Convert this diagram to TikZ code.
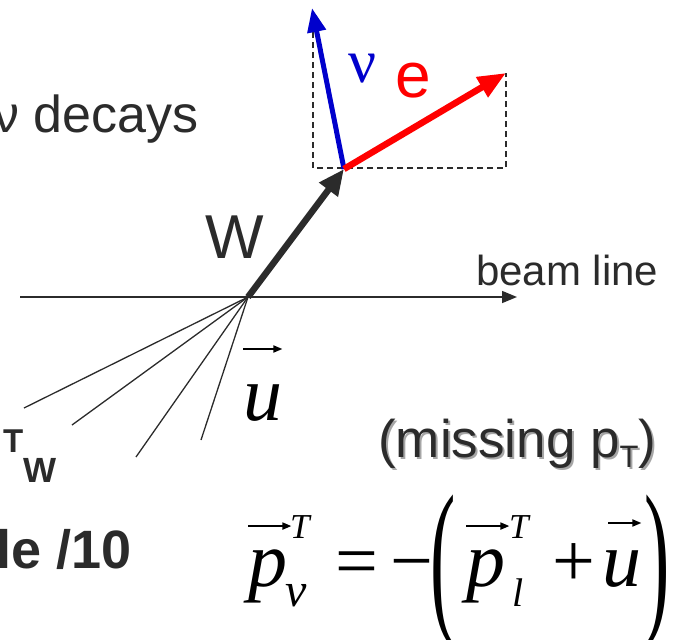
\documentclass[tikz,border=0pt]{standalone}
\usepackage{fontspec}
\setmainfont{Liberation Sans}
\newfontfamily\tms{Liberation Serif}
\usepackage{xcolor}
\usepackage{tikz}
\usetikzlibrary{arrows.meta, positioning}
\definecolor{ink}{HTML}{2B2B2B}
\definecolor{nublue}{HTML}{0000CC}
\definecolor{ered}{HTML}{FF0000}
\newcommand{\fsz}[1]{\fontsize{#1}{#1}\selectfont}
\tikzstyle{lbl}   = [inner sep=0pt, text=ink]
\tikzstyle{eq}    = [inner sep=0pt, text=black, font=\tms\itshape\fsz{78}]
\tikzstyle{eqsym} = [inner sep=0pt, text=black, font=\tms\fsz{76}]
\tikzstyle{track} = [draw=ink, line width=1.3pt]
\tikzstyle{vec}   = [line width=1.8pt, -{Triangle[length=9pt,width=7pt]}]

\begin{document}
\begin{tikzpicture}[x=1pt, y=-1pt]
    \useasboundingbox (0,0) rectangle (683,640);

    % ── Vertex and momenta ──────────────────────────────────────────────────
    \coordinate (vtx)   at (248,297);
    \coordinate (wtip)  at (344,169);
    \coordinate (nutip) at (312,8);
    \coordinate (etip)  at (506,73);
    \coordinate (beam0) at (20,297);
    \coordinate (beam1) at (517,297);

    % ── Dashed projection box ───────────────────────────────────────────────
    \coordinate (dtop)  at (313,32);
    \coordinate (dbl)   at (313,168);
    \coordinate (dbr)   at (506,168);
    \draw [draw=ink, dashed, dash pattern=on 6pt off 4pt, line width=1.3pt]
        (dtop) -- (dbl) -- (dbr) -- (etip);

    % ── Beam line and recoil ────────────────────────────────────────────────
    \draw [draw=ink, line width=1.5pt, -{Triangle[length=15pt,width=12pt]}]
        (beam0) -- (beam1);
    \coordinate (f1) at (24,408);
    \coordinate (f2) at (72,425);
    \coordinate (f3) at (136,457);
    \coordinate (f4) at (201,440);
    \foreach \f in {f1,f2,f3,f4}
        \draw [track] (vtx) -- (\f);

    % ── W, neutrino, electron ───────────────────────────────────────────────
    \draw [draw=nublue, line width=5pt, -{Triangle[length=24pt,width=18pt]}]
        (wtip) -- (nutip);
    \draw [draw=ered, line width=6.5pt, -{Triangle[length=28pt,width=22pt]}]
        (wtip) -- (etip);
    \draw [draw=ink, line width=6.5pt, -{Triangle[length=26pt,width=22pt]}]
        (vtx) -- (wtip);

    % ── Labels ──────────────────────────────────────────────────────────────
    \node (decays) [lbl, anchor=base east, font=\fsz{52}] at (199,132) {ν decays};
    \node (wlbl)   [lbl, anchor=base west, font=\fsz{62}] at (205,258) {W};
    \node (beam)   [lbl, anchor=base west, font=\fsz{42}] at (476,285) {beam line};
    \node (elbl)   [inner sep=0pt, text=ered, anchor=base west, font=\fsz{64}]
        at (395,97) {e};
    \node (nulbl)  [inner sep=0pt, text=nublue, anchor=base west, font=\tms\fsz{62}]
        at (348,82) {ν};
    \node (tw)     [lbl, anchor=base west, font=\bfseries\fsz{33}]
        at (3,452) {T\raisebox{-30pt}{\fsz{35}W}};
    \node (scale)  [lbl, anchor=base west, font=\bfseries\fsz{54}] at (-4,568) {le /10};

    % ── Recoil vector u ─────────────────────────────────────────────────────
    \node (ubig) [eq, anchor=base west] at (243,420) {u};
    \draw [vec] ([yshift=35pt]ubig.north west) -- ([yshift=35pt]ubig.north east);

    % ── Missing pT (with shadow) ────────────────────────────────────────────
    \node (misssh) [inner sep=0pt, text=black!35, anchor=base west, font=\fsz{53}]
        at (380,459) {(missing p\raisebox{-10pt}{\fsz{31}T})};
    \node (miss)   [lbl, anchor=base west, font=\fsz{53}]
        at (378,457) {(missing p\raisebox{-10pt}{\fsz{31}T})};

    % ── Formula ─────────────────────────────────────────────────────────────
    \node (p1)    [eq, anchor=base west] at (248,586) {p};
    \node (t1)    [eq, anchor=base west, font=\tms\itshape\fsz{35}] at (290,538) {T};
    \node (nusub) [eq, anchor=base west, font=\tms\itshape\fsz{48}] at (285,606) {ν};
    \node (equal) [eqsym, anchor=base west] at (335,586) {=};
    \node (minus) [eqsym, anchor=base west] at (390,586) {−};
    \node (lpar)  [eqsym] at (443,572) {\scalebox{1}[2.25]{(}};
    \node (p2)    [eq, anchor=base west] at (466,586) {p};
    \node (t2)    [eq, anchor=base west, font=\tms\itshape\fsz{35}] at (509,538) {T};
    \node (lsub)  [eq, anchor=base west, font=\tms\itshape\fsz{40}] at (512,606) {l};
    \node (plus)  [eqsym, anchor=base west] at (552,586) {+};
    \node (u2)    [eq, anchor=base west] at (602,586) {u};
    \node (rpar)  [eqsym] at (657,572) {\scalebox{1}[2.25]{)}};

    \draw [vec] ([yshift=23pt]p1.north west) -- ([yshift=23pt,xshift=4pt]p1.north east);
    \draw [vec] ([yshift=23pt]p2.north west) -- ([yshift=23pt,xshift=4pt]p2.north east);
    \draw [vec] ([yshift=27pt,xshift=6pt]u2.north west) -- ([yshift=27pt]u2.north east);

\end{tikzpicture}
\end{document}
